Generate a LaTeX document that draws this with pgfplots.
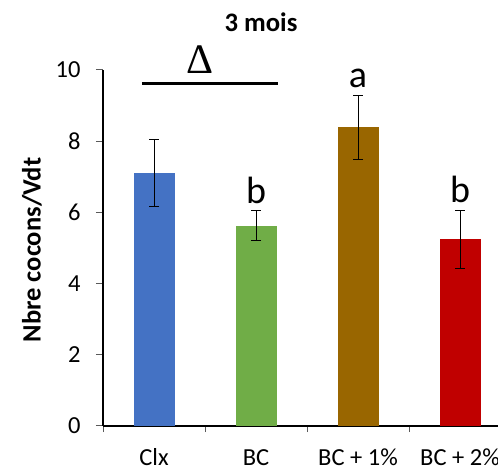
\documentclass[border=0pt]{standalone}
\usepackage{fontspec}
\setmainfont{Carlito}
\newfontfamily\serif{Liberation Serif}
\usepackage{pgfplots}
\pgfplotsset{compat=1.18}
\definecolor{c1}{HTML}{4472C4}
\definecolor{c2}{HTML}{70AD47}
\definecolor{c3}{HTML}{996600}
\definecolor{c4}{HTML}{C00000}
\begin{document}
\begin{tikzpicture}
\useasboundingbox (0,0) rectangle (498bp,472bp);
\clip (0,0) rectangle (498bp,472bp);
\begin{axis}[
  at={(103bp,46bp)}, anchor=south west,
  scale only axis, width=408bp, height=356bp,
  xmin=-0.5, xmax=3.5, ymin=0, ymax=10,
  axis x line*=bottom, axis y line*=left,
  axis line style={-, black, line width=1.8bp},
  ytick={0,2,4,6,8,10},
  xtick={0,1,2,3},
  xticklabels={Clx,BC,BC + 1\%,BC + 2\%},
  minor xtick={-0.5,0.5,1.5,2.5,3.5},
  major x tick style={draw=none},
  tick align=outside,
  major tick length=7bp, minor tick length=6bp,
  every tick/.style={black!65, line width=1bp},
  ticklabel style={font=\fontsize{24.5bp}{28bp}\selectfont},
  /pgf/number format/assume math mode=true,
  xticklabel style={anchor=base, yshift=-32.5bp, inner sep=0pt},
  yticklabel style={anchor=east, xshift=-12bp},
  clip=false,
  ybar, bar width=41bp,
  error bars/error bar style={black, line width=1bp},
]
\addplot[ybar, bar shift=0pt, fill=c1, draw=none,
  error bars/.cd, y dir=both, y explicit,
  error mark options={rotate=90, mark size=5bp, black, line width=1bp}]
  coordinates {(0,7.11) +- (0,0.95)};
\addplot[ybar, bar shift=0pt, fill=c2, draw=none,
  error bars/.cd, y dir=both, y explicit,
  error mark options={rotate=90, mark size=5bp, black, line width=1bp}]
  coordinates {(1,5.62) +- (0,0.42)};
\addplot[ybar, bar shift=0pt, fill=c3, draw=none,
  error bars/.cd, y dir=both, y explicit,
  error mark options={rotate=90, mark size=5bp, black, line width=1bp}]
  coordinates {(2,8.39) +- (0,0.90)};
\addplot[ybar, bar shift=0pt, fill=c4, draw=none,
  error bars/.cd, y dir=both, y explicit,
  error mark options={rotate=90, mark size=5bp, black, line width=1bp}]
  coordinates {(3,5.24) +- (0,0.82)};
\node[anchor=base, font=\fontsize{38bp}{40bp}\selectfont] at (axis cs:1,6.26) {b};
\node[anchor=base, font=\fontsize{38bp}{40bp}\selectfont] at (axis cs:2,9.52) {a};
\node[anchor=base, font=\fontsize{38bp}{40bp}\selectfont] at (axis cs:3,6.29) {b};
\draw[line width=3bp] (axis cs:-0.12,9.61) -- (axis cs:1.216,9.61);
\node[anchor=base, inner sep=0pt, font=\serif\fontsize{42bp}{44bp}\selectfont] at (axis cs:0.448,9.91) {Δ};
\end{axis}
\node[anchor=base, font=\bfseries\fontsize{26.7bp}{30bp}\selectfont] at (261bp,440.3bp) {3 mois};
\node[rotate=90, font=\bfseries\fontsize{26.5bp}{30bp}\selectfont] at (32bp,222bp) {Nbre cocons/Vdt};
\end{tikzpicture}
\end{document}
